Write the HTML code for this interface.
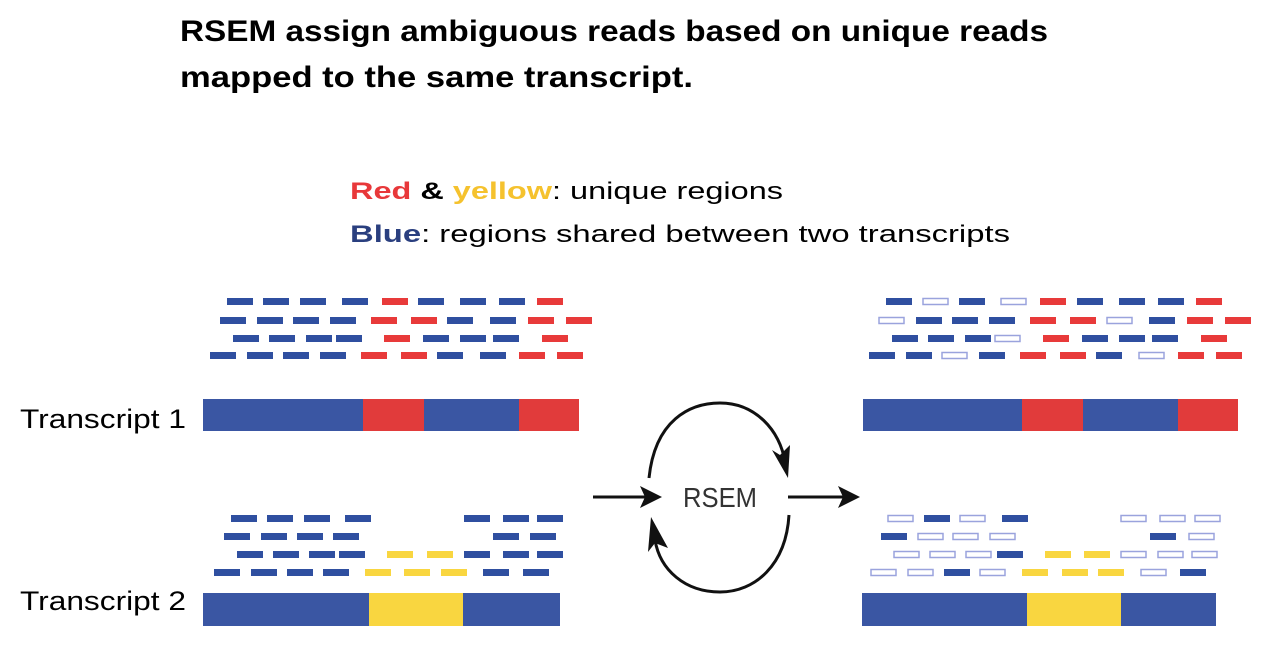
<!DOCTYPE html>
<html><head><meta charset="utf-8"><style>html,body{margin:0;padding:0;background:#fff}svg{display:block}</style></head>
<body>
<svg width="1282" height="664" viewBox="0 0 1282 664" xmlns="http://www.w3.org/2000/svg" font-family="Liberation Sans, sans-serif">
<defs>
<marker id="ah" viewBox="0 0 10 10" refX="9" refY="5" markerWidth="7" markerHeight="7" orient="auto" markerUnits="userSpaceOnUse"></marker>
</defs>
<text x="180" y="41" font-size="30" font-weight="bold" textLength="868" lengthAdjust="spacingAndGlyphs">RSEM assign ambiguous reads based on unique reads</text>
<text x="180" y="87" font-size="30" font-weight="bold" textLength="513" lengthAdjust="spacingAndGlyphs">mapped to the same transcript.</text>
<text x="350" y="199" font-size="24" textLength="433" lengthAdjust="spacingAndGlyphs"><tspan fill="#e8383a" font-weight="bold">Red</tspan><tspan font-weight="bold"> &amp; </tspan><tspan fill="#f5c22e" font-weight="bold">yellow</tspan>:  unique regions</text>
<text x="350" y="242" font-size="24" textLength="660" lengthAdjust="spacingAndGlyphs"><tspan fill="#2a3f7f" font-weight="bold">Blue</tspan>:  regions shared between two transcripts</text>
<text x="20" y="428" font-size="27" textLength="166" lengthAdjust="spacingAndGlyphs">Transcript 1</text>
<text x="20" y="610" font-size="27" textLength="166" lengthAdjust="spacingAndGlyphs">Transcript 2</text>

<g id="reads"></g>

<!-- bars -->
<rect x="203" y="399" width="160" height="32" fill="#3a56a3"/><rect x="363" y="399" width="61" height="32" fill="#e13b3b"/><rect x="424" y="399" width="95" height="32" fill="#3a56a3"/><rect x="519" y="399" width="60" height="32" fill="#e13b3b"/>
<rect x="203" y="593" width="166" height="33" fill="#3a56a3"/><rect x="369" y="593" width="94" height="33" fill="#f9d640"/><rect x="463" y="593" width="97" height="33" fill="#3a56a3"/>
<rect x="863" y="399" width="159" height="32" fill="#3a56a3"/><rect x="1022" y="399" width="61" height="32" fill="#e13b3b"/><rect x="1083" y="399" width="95" height="32" fill="#3a56a3"/><rect x="1178" y="399" width="60" height="32" fill="#e13b3b"/>
<rect x="862" y="593" width="165" height="33" fill="#3a56a3"/><rect x="1027" y="593" width="94" height="33" fill="#f9d640"/><rect x="1121" y="593" width="95" height="33" fill="#3a56a3"/>

<!-- RSEM cycle -->
<g stroke="#111" stroke-width="3" fill="none">
<line x1="593" y1="497" x2="650" y2="497"/>
<line x1="788" y1="497" x2="845" y2="497"/>
<path d="M649 478 C655 420 690 403 720 403 C755 403 780 430 785 462"/>
<path d="M789 515 C786 565 755 592 720 592 C685 592 660 570 655 540"/>
</g>
<g fill="#111">
<polygon points="662,497 640,486 645,497 640,508"/>
<polygon points="860,497 838,486 843,497 838,508"/>
<polygon points="788,478 772,450 780,455 790,445"/>
<polygon points="651,517 648,552 655,543 668,548"/>
</g>
<text x="720" y="507" font-size="28" text-anchor="middle" fill="#333" textLength="74" lengthAdjust="spacingAndGlyphs">RSEM</text>

<!-- reads: B=filled blue, R=red, Y=yellow, O=outlined -->
<g>
<!-- top-left -->
<g fill="#2f4fa0">
<rect x="227" y="298" width="26" height="7"/><rect x="263" y="298" width="26" height="7"/><rect x="300" y="298" width="26" height="7"/><rect x="342" y="298" width="26" height="7"/><rect x="418" y="298" width="26" height="7"/><rect x="460" y="298" width="26" height="7"/><rect x="499" y="298" width="26" height="7"/>
<rect x="220" y="317" width="26" height="7"/><rect x="257" y="317" width="26" height="7"/><rect x="293" y="317" width="26" height="7"/><rect x="330" y="317" width="26" height="7"/><rect x="447" y="317" width="26" height="7"/><rect x="490" y="317" width="26" height="7"/>
<rect x="233" y="335" width="26" height="7"/><rect x="269" y="335" width="26" height="7"/><rect x="306" y="335" width="26" height="7"/><rect x="336" y="335" width="26" height="7"/><rect x="423" y="335" width="26" height="7"/><rect x="460" y="335" width="26" height="7"/><rect x="493" y="335" width="26" height="7"/>
<rect x="210" y="352" width="26" height="7"/><rect x="247" y="352" width="26" height="7"/><rect x="283" y="352" width="26" height="7"/><rect x="320" y="352" width="26" height="7"/><rect x="437" y="352" width="26" height="7"/><rect x="480" y="352" width="26" height="7"/>
</g>
<g fill="#e83a3a">
<rect x="382" y="298" width="26" height="7"/><rect x="537" y="298" width="26" height="7"/>
<rect x="371" y="317" width="26" height="7"/><rect x="411" y="317" width="26" height="7"/><rect x="528" y="317" width="26" height="7"/><rect x="566" y="317" width="26" height="7"/>
<rect x="384" y="335" width="26" height="7"/><rect x="542" y="335" width="26" height="7"/>
<rect x="361" y="352" width="26" height="7"/><rect x="401" y="352" width="26" height="7"/><rect x="519" y="352" width="26" height="7"/><rect x="557" y="352" width="26" height="7"/>
</g>
<!-- bottom-left -->
<g fill="#2f4fa0">
<rect x="231" y="515" width="26" height="7"/><rect x="267" y="515" width="26" height="7"/><rect x="304" y="515" width="26" height="7"/><rect x="345" y="515" width="26" height="7"/><rect x="464" y="515" width="26" height="7"/><rect x="503" y="515" width="26" height="7"/><rect x="537" y="515" width="26" height="7"/>
<rect x="224" y="533" width="26" height="7"/><rect x="261" y="533" width="26" height="7"/><rect x="297" y="533" width="26" height="7"/><rect x="333" y="533" width="26" height="7"/><rect x="493" y="533" width="26" height="7"/><rect x="530" y="533" width="26" height="7"/>
<rect x="237" y="551" width="26" height="7"/><rect x="273" y="551" width="26" height="7"/><rect x="309" y="551" width="26" height="7"/><rect x="339" y="551" width="26" height="7"/><rect x="464" y="551" width="26" height="7"/><rect x="503" y="551" width="26" height="7"/><rect x="537" y="551" width="26" height="7"/>
<rect x="214" y="569" width="26" height="7"/><rect x="251" y="569" width="26" height="7"/><rect x="287" y="569" width="26" height="7"/><rect x="323" y="569" width="26" height="7"/><rect x="483" y="569" width="26" height="7"/><rect x="523" y="569" width="26" height="7"/>
</g>
<g fill="#f9d640">
<rect x="387" y="551" width="26" height="7"/><rect x="427" y="551" width="26" height="7"/>
<rect x="365" y="569" width="26" height="7"/><rect x="404" y="569" width="26" height="7"/><rect x="441" y="569" width="26" height="7"/>
</g>
<!-- top-right -->
<g fill="#2f4fa0">
<rect x="886" y="298" width="26" height="7"/><rect x="959" y="298" width="26" height="7"/><rect x="1077" y="298" width="26" height="7"/><rect x="1119" y="298" width="26" height="7"/><rect x="1158" y="298" width="26" height="7"/>
<rect x="916" y="317" width="26" height="7"/><rect x="952" y="317" width="26" height="7"/><rect x="989" y="317" width="26" height="7"/><rect x="1149" y="317" width="26" height="7"/>
<rect x="892" y="335" width="26" height="7"/><rect x="928" y="335" width="26" height="7"/><rect x="965" y="335" width="26" height="7"/><rect x="1082" y="335" width="26" height="7"/><rect x="1119" y="335" width="26" height="7"/><rect x="1152" y="335" width="26" height="7"/>
<rect x="869" y="352" width="26" height="7"/><rect x="906" y="352" width="26" height="7"/><rect x="979" y="352" width="26" height="7"/><rect x="1096" y="352" width="26" height="7"/>
</g>
<g fill="#e83a3a">
<rect x="1040" y="298" width="26" height="7"/><rect x="1196" y="298" width="26" height="7"/>
<rect x="1030" y="317" width="26" height="7"/><rect x="1070" y="317" width="26" height="7"/><rect x="1187" y="317" width="26" height="7"/><rect x="1225" y="317" width="26" height="7"/>
<rect x="1043" y="335" width="26" height="7"/><rect x="1201" y="335" width="26" height="7"/>
<rect x="1020" y="352" width="26" height="7"/><rect x="1060" y="352" width="26" height="7"/><rect x="1178" y="352" width="26" height="7"/><rect x="1216" y="352" width="26" height="7"/>
</g>
<g fill="#fff" stroke="#9aa3dd" stroke-width="1.5">
<rect x="923" y="298.5" width="25" height="6"/><rect x="1001" y="298.5" width="25" height="6"/>
<rect x="879" y="317.5" width="25" height="6"/><rect x="1107" y="317.5" width="25" height="6"/>
<rect x="995" y="335.5" width="25" height="6"/>
<rect x="942" y="352.5" width="25" height="6"/><rect x="1139" y="352.5" width="25" height="6"/>
</g>
<!-- bottom-right -->
<g fill="#2f4fa0">
<rect x="924" y="515" width="26" height="7"/><rect x="1002" y="515" width="26" height="7"/>
<rect x="881" y="533" width="26" height="7"/><rect x="1150" y="533" width="26" height="7"/>
<rect x="997" y="551" width="26" height="7"/>
<rect x="944" y="569" width="26" height="7"/><rect x="1180" y="569" width="26" height="7"/>
</g>
<g fill="#f9d640">
<rect x="1045" y="551" width="26" height="7"/><rect x="1084" y="551" width="26" height="7"/>
<rect x="1022" y="569" width="26" height="7"/><rect x="1062" y="569" width="26" height="7"/><rect x="1098" y="569" width="26" height="7"/>
</g>
<g fill="#fff" stroke="#9aa3dd" stroke-width="1.5">
<rect x="888" y="515.5" width="25" height="6"/><rect x="960" y="515.5" width="25" height="6"/><rect x="1121" y="515.5" width="25" height="6"/><rect x="1160" y="515.5" width="25" height="6"/><rect x="1195" y="515.5" width="25" height="6"/>
<rect x="918" y="533.5" width="25" height="6"/><rect x="953" y="533.5" width="25" height="6"/><rect x="990" y="533.5" width="25" height="6"/><rect x="1189" y="533.5" width="25" height="6"/>
<rect x="894" y="551.5" width="25" height="6"/><rect x="930" y="551.5" width="25" height="6"/><rect x="966" y="551.5" width="25" height="6"/><rect x="1121" y="551.5" width="25" height="6"/><rect x="1158" y="551.5" width="25" height="6"/><rect x="1192" y="551.5" width="25" height="6"/>
<rect x="871" y="569.5" width="25" height="6"/><rect x="908" y="569.5" width="25" height="6"/><rect x="980" y="569.5" width="25" height="6"/><rect x="1141" y="569.5" width="25" height="6"/>
</g>
</g>
</svg>
</body></html>
